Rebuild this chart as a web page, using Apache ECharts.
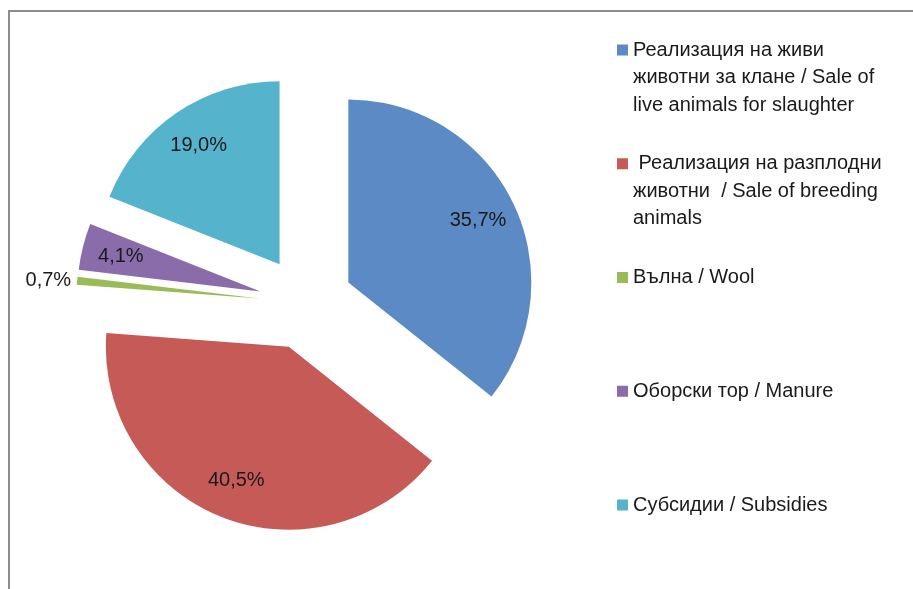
<!DOCTYPE html>
<html>
<head>
<meta charset="utf-8">
<script src="https://cdn.jsdelivr.net/npm/echarts@6/dist/echarts.min.js"></script>
<style>
  html, body { margin: 0; padding: 0; background: #ffffff; }
  #chart { width: 913px; height: 589px; }
</style>
</head>
<body>
<div id="chart"></div>
<script>
const categories = [
  'Реализация на живи\nживотни за клане / Sale of\nlive animals for slaughter',
  ' Реализация на разплодни\nживотни  / Sale of breeding\nanimals',
  'Вълна / Wool',
  'Оборски тор / Manure',
  'Субсидии / Subsidies'
];
const shares = [35.7, 40.5, 0.7, 4.1, 19.0];
const colors = ['#5b8ac4', '#c65a57', '#9bbb59', '#8a6caa', '#55b3cb'];
const outsideLabel = [false, false, true, false, false];

const LH = 27.5;
const FONT = 'Liberation Sans, Arial, sans-serif';

function fmt(v) { return v.toFixed(1).replace('.', ',') + '%'; }

const mainData = categories.map((name, i) => ({
  name: name,
  value: shares[i],
  selected: true,
  itemStyle: { color: colors[i] }
}));

const labelData = categories.map((name, i) => ({
  name: name,
  value: shares[i],
  selected: true,
  label: outsideLabel[i] ? { position: 'outside', distanceToLabelLine: 6 } : { position: 'inside' },
  labelLine: { show: false, length: 0, length2: 0 }
}));

const legendData = categories.map((name, i) => ({
  name: name,
  itemStyle: { color: colors[i] }
}));

// Put the first text line level with the legend square (Excel style):
// pad every entry to 5 lines with the first real line in the middle.
function legendText(name) {
  const lines = name.split('\n').length;
  return '\n\n' + name + (lines === 1 ? '\n\n' : '');
}

const chart = echarts.init(document.getElementById('chart'), null, { renderer: 'canvas' });
chart.setOption({
  animation: false,
  backgroundColor: '#ffffff',
  graphic: [{
    type: 'rect',
    z: -10,
    silent: true,
    shape: { x: 9, y: 11, width: 1000, height: 1000 },
    style: { fill: 'none', stroke: '#8c8c8c', lineWidth: 2 }
  }],
  legend: {
    orient: 'vertical',
    left: 617,
    top: -18.75,
    padding: 0,
    itemGap: -23.75,
    itemWidth: 11,
    itemHeight: 11,
    icon: 'rect',
    selectedMode: false,
    formatter: legendText,
    textStyle: { fontFamily: FONT, fontSize: 20, color: '#1a1a1a', lineHeight: LH },
    data: legendData
  },
  series: [
    {
      type: 'pie',
      center: [306, 303],
      radius: [0, 183],
      startAngle: 90,
      clockwise: true,
      selectedMode: 'multiple',
      selectedOffset: 47,
      avoidLabelOverlap: false,
      label: { show: false },
      labelLine: { show: false },
      emphasis: { disabled: true },
      itemStyle: { borderWidth: 0 },
      data: mainData
    },
    {
      type: 'pie',
      center: [306, 303],
      radius: [99, 183],
      startAngle: 90,
      clockwise: true,
      selectedMode: 'multiple',
      selectedOffset: 47,
      avoidLabelOverlap: false,
      silent: true,
      emphasis: { disabled: true },
      itemStyle: { color: 'rgba(0,0,0,0)', borderWidth: 0 },
      label: {
        show: true,
        fontFamily: FONT,
        fontSize: 20,
        color: '#1a1a1a',
        formatter: p => fmt(p.value)
      },
      labelLine: { show: false },
      data: labelData
    }
  ]
});
</script>
</body>
</html>
